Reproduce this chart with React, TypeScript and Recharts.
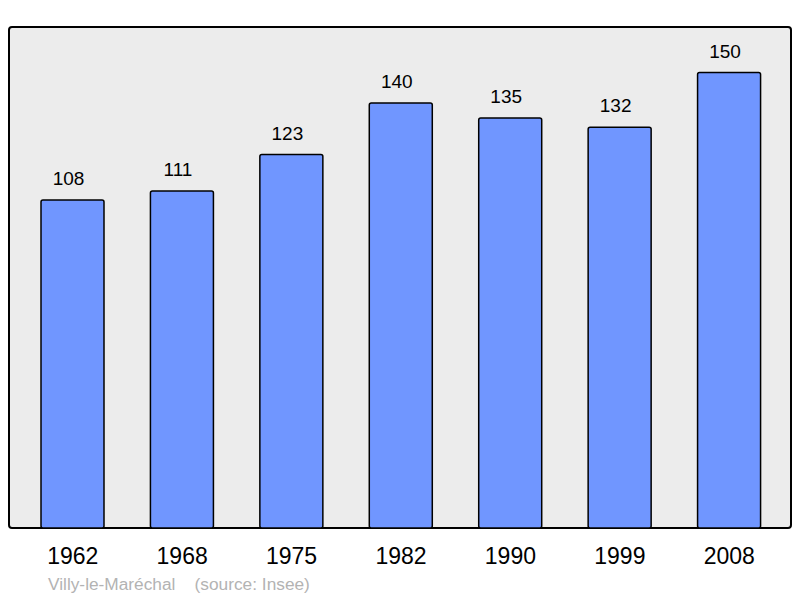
import { BarChart, Bar, XAxis, YAxis, LabelList } from "recharts";

const years = ["1962", "1968", "1975", "1982", "1990", "1999", "2008"];
const population = [108, 111, 123, 140, 135, 132, 150];

const data = years.map((year, idx) => ({ year, value: population[idx] }));

const FONT = "'Liberation Sans', Arial, sans-serif";

export default function App() {
  return (
    <div style={{ position: "absolute", left: 0, top: 0, width: 800, height: 598, background: "#fff" }}>
      {/* plot frame behind the svg */}
      <div
        style={{
          position: "absolute",
          left: 8,
          top: 26,
          width: 780,
          height: 499,
          background: "#ececec",
          border: "2px solid #000",
          borderRadius: 4,
        }}
      />
      <BarChart
        width={800}
        height={598}
        data={data}
        margin={{ top: 27, right: 9, left: 9, bottom: 40 }}
        style={{ position: "absolute", left: 0, top: 0, fontFamily: FONT }}
      >
        <XAxis
          dataKey="year"
          axisLine={false}
          tickLine={false}
          padding={{ left: 9, right: 7 }}
          height={30}
          tick={({ x, y, payload }: any) => (
            <text x={x} y={y + 28} textAnchor="middle" fontSize={23} fill="#000" fontFamily={FONT}>
              {payload.value}
            </text>
          )}
        />
        <YAxis hide domain={[0, 165]} />
        <Bar dataKey="value" fill="#7096ff" stroke="#000" strokeWidth={1.5} barSize={63} radius={2} isAnimationActive={false}>
          <LabelList dataKey="value" position="top" offset={15} dx={-4} fontSize={19} fill="#000" fontFamily={FONT} />
        </Bar>
      </BarChart>
      <div
        style={{
          position: "absolute",
          left: 48,
          top: 574,
          fontFamily: FONT,
          fontSize: 17.3,
          color: "#b3b3b3",
          whiteSpace: "pre",
        }}
      >
        {"Villy-le-Maréchal    (source: Insee)"}
      </div>
    </div>
  );
}
